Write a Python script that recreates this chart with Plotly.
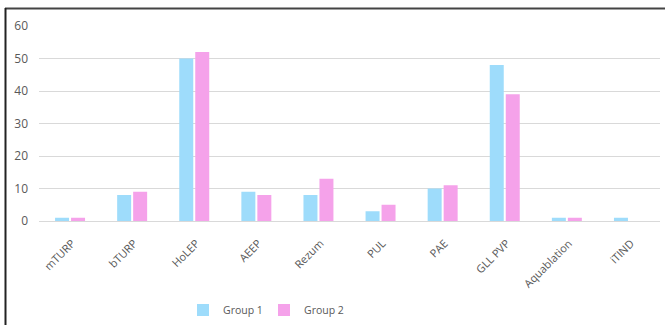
import plotly.graph_objects as go

categories = ["mTURP", "bTURP", "HoLEP", "AEEP", "Rezum", "PUL", "PAE", "GLL PVP", "Aquablation", "iTIND"]
group1 = [1, 8, 50, 9, 8, 3, 10, 48, 1, 1]
group2 = [1, 9, 52, 8, 13, 5, 11, 39, 1, 0]
y_ticks = [0, 10, 20, 30, 40, 50, 60]

W, H = 665, 325
ml, mr, mt, mb = 39, 5, 26, 104
pw = W - ml - mr
ph = H - mt - mb

def px2x(px):
    return (px - ml) / pw

def py2y(py):
    return (H - mb - py) / ph

fig = go.Figure()
fig.add_trace(go.Bar(x=categories, y=group1, name="Group 1",
                     marker=dict(color="#9edcfb", line=dict(width=0))))
fig.add_trace(go.Bar(x=categories, y=group2, name="Group 2",
                     marker=dict(color="#f5a2ea", line=dict(width=0))))

fig.update_layout(
    width=W, height=H,
    margin=dict(l=ml, r=mr, t=mt, b=mb, autoexpand=False),
    paper_bgcolor="white", plot_bgcolor="white",
    barmode="group", bargap=0.485, bargroupgap=0.125,
    font=dict(family="Open Sans, sans-serif", color="#595959", size=11),
    xaxis=dict(tickangle=-45, showgrid=False, showline=False, ticks="", automargin=False,
               tickfont=dict(family="Open Sans, sans-serif", size=11, color="#595959"),
               ticklabelshift=2, ticklabelstandoff=13),
    yaxis=dict(range=[0, 60], tickvals=y_ticks, showgrid=True, gridcolor="#d9d9d9",
               gridwidth=1, zeroline=True, zerolinecolor="#d9d9d9", zerolinewidth=1,
               showline=False, ticks="", tickfont=dict(size=12, color="#595959"),
               ticklabelstandoff=10, automargin=False),
    legend=dict(orientation="h", x=px2x(183), xanchor="left", y=py2y(310), yanchor="middle",
                font=dict(size=10.5, color="#595959"), itemwidth=30, entrywidth=36,
                traceorder="normal"),
    showlegend=True,
    shapes=[
        dict(type="line", xref="paper", yref="paper", x0=px2x(5), x1=px2x(665),
             y0=py2y(8.5), y1=py2y(8.5), line=dict(color="#444444", width=2)),
        dict(type="line", xref="paper", yref="paper", x0=px2x(5.5), x1=px2x(5.5),
             y0=py2y(8), y1=py2y(325), line=dict(color="#222222", width=2)),
    ],
)

fig.write_html("out.html")
